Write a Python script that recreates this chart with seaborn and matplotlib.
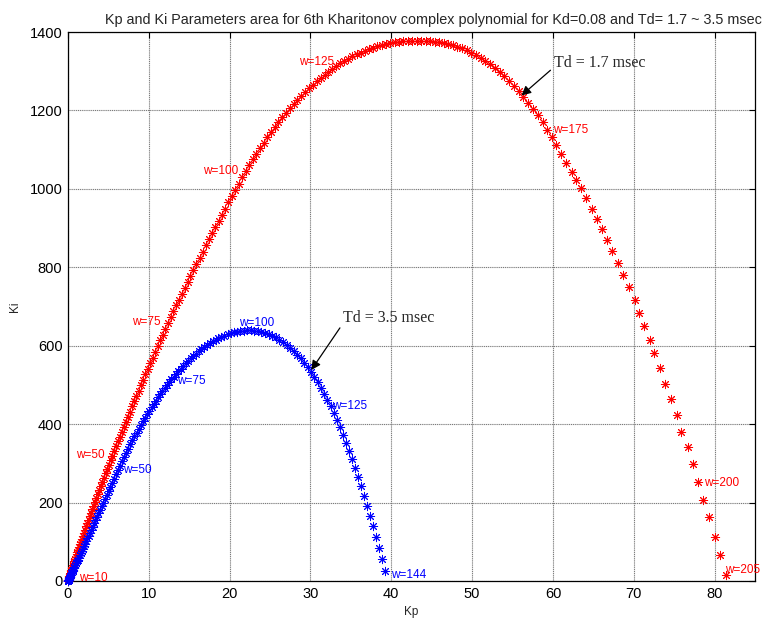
import matplotlib
matplotlib.use("Agg")
import matplotlib.pyplot as plt
import seaborn as sns
import pandas as pd

# ---------------- data ----------------
# Td = 1.7 msec curve (red), w = 0 ... 205
red_kp = [0, 0.002, 0.009, 0.020, 0.035, 0.055, 0.079, 0.108, 0.141, 0.178, 0.22, 0.266, 0.317, 0.372, 0.431,
          0.495, 0.563, 0.636, 0.713, 0.794, 0.88, 0.970, 1.065, 1.164, 1.267, 1.375, 1.487, 1.604, 1.725, 1.850,
          1.98, 2.114, 2.253, 2.396, 2.543, 2.695, 2.851, 3.012, 3.177, 3.346, 3.52, 3.698, 3.881, 4.068, 4.259,
          4.455, 4.655, 4.860, 5.069, 5.282, 5.50,
          5.722, 5.949, 6.180, 6.415, 6.655, 6.899, 7.148, 7.401, 7.658, 7.92, 8.186, 8.457, 8.732, 9.011, 9.295,
          9.583, 9.876, 10.173, 10.474, 10.78, 11.09, 11.405, 11.724, 12.047, 12.375, 12.707, 13.044, 13.385,
          13.730, 14.08, 14.434, 14.793, 15.156, 15.523, 15.895, 16.271, 16.652, 17.037, 17.426, 17.82, 18.218,
          18.621, 19.028, 19.439, 19.855, 20.275, 20.70, 21.129, 21.562, 22.0,
          22.44, 22.88, 23.32, 23.76, 24.2, 24.66, 25.12, 25.58, 26.04, 26.5, 26.97, 27.44, 27.91, 28.38, 28.85,
          29.33, 29.81, 30.29, 30.77, 31.25, 31.74, 32.23, 32.72, 33.21, 33.7, 34.2, 34.7, 35.2, 35.7, 36.2,
          36.72, 37.24, 37.76, 38.28, 38.8, 39.34, 39.88, 40.42, 40.96, 41.5, 42.05, 42.6, 43.15, 43.7, 44.25,
          44.81, 45.37, 45.93, 46.49, 47.05, 47.62, 48.19, 48.76, 49.33, 49.9, 50.48, 51.06, 51.64, 52.22, 52.8,
          53.39, 53.98, 54.57, 55.16, 55.75, 56.35, 56.95, 57.55, 58.15, 58.75, 59.3, 59.85, 60.4,
          61.0, 61.6, 62.3, 62.9, 63.5, 64.1, 64.8, 65.5, 66.1, 66.7, 67.3, 68.1, 68.7, 69.4, 70.1,
          70.7, 71.3, 72.0, 72.5, 73.3, 73.9, 74.6, 75.3, 75.9, 76.7, 77.3,
          77.9, 78.6, 79.3, 80.0, 80.7, 81.4]
red_ki = [0, 0.15, 0.60, 1.34, 2.37, 3.70, 5.31, 7.20, 9.37, 11.83, 14.56, 17.57, 20.84, 24.39, 28.19, 32.27,
          36.61, 41.18, 46.04, 51.12, 56.48, 62.09, 67.91, 74.01, 80.29, 86.88, 93.69, 100.67, 107.96, 115.39,
          123.12, 131.08, 139.16, 147.56, 156.06, 164.89, 173.92, 183.04, 192.49, 201.99, 211.84, 221.89, 231.97,
          242.40, 252.84, 263.66, 274.66, 285.62, 296.99, 308.29, 320.0,
          331.8, 343.7, 355.8, 368.1, 380.5, 393.1, 405.9, 418.7, 431.8, 445.0, 458.3, 471.7, 485.3, 499.1, 512.9,
          526.9, 541.0, 555.3, 569.6, 584.1, 598.7, 613.4, 628.2, 643.1, 658.1, 672.9, 687.8, 702.7, 717.7, 732.8,
          747.9, 763.2, 778.5, 793.8, 809.2, 824.7, 840.2, 855.7, 871.3, 887.0, 902.6, 918.3, 934.1, 949.9, 965.7,
          981.5, 997.4, 1013.2, 1029.1, 1045.0,
          1060.3, 1075.3, 1089.9, 1104.1, 1118.0, 1131.5, 1144.7, 1157.5, 1169.9, 1182.0, 1193.7, 1205.1, 1216.0,
          1226.7, 1237.0, 1246.9, 1256.4, 1265.6, 1274.4, 1283.0, 1291.0, 1298.8, 1306.2, 1313.2, 1319.8, 1326.2,
          1332.1, 1337.7, 1342.9, 1347.7, 1352.3, 1356.4, 1360.2, 1363.6, 1366.8, 1369.4, 1371.8, 1373.7, 1375.4,
          1376.7, 1377.5, 1378.1, 1378.3,
          1377.9, 1377.6, 1376.8, 1375.7, 1374.1, 1372.0, 1369.4, 1366.2, 1362.4, 1358.0, 1353.0, 1347.2, 1340.8,
          1333.7, 1325.9, 1317.3, 1308.1, 1297.9, 1287.0, 1275.3, 1262.7, 1249.4, 1235.1, 1220.0, 1204.0, 1187.2,
          1169.4, 1150.7, 1131.1, 1110.6,
          1089, 1066, 1043, 1023, 1002, 977, 949, 923, 898, 870, 842, 811, 781, 750, 717,
          684, 650, 615, 581, 543, 503, 464, 423, 380, 342, 299,
          252, 207, 163, 112, 66, 15]

# Td = 3.5 msec curve (blue), w = 0 ... 144
blue_kp = [0, 0.0025, 0.0099, 0.0223, 0.0397, 0.062, 0.0893, 0.1215, 0.1587, 0.2009, 0.248, 0.300, 0.357, 0.419,
           0.486, 0.558, 0.635, 0.717, 0.804, 0.895, 0.992, 1.094, 1.200, 1.312, 1.428, 1.55, 1.676, 1.808, 1.944,
           2.086, 2.232, 2.383, 2.540, 2.701, 2.867, 3.038, 3.214, 3.395, 3.581, 3.772, 3.968, 4.169, 4.375, 4.586,
           4.801, 5.022, 5.248, 5.478, 5.714, 5.954, 6.2,
           6.449, 6.699, 6.950, 7.202, 7.456, 7.711, 7.967, 8.225, 8.484, 8.744, 9.005, 9.268, 9.532, 9.797, 10.064,
           10.332, 10.601, 10.871, 11.143, 11.416, 11.69, 11.966, 12.243, 12.521, 12.8,
           13.082, 13.370, 13.662, 13.958, 14.26, 14.566, 14.878, 15.194, 15.514, 15.84, 16.17, 16.506, 16.846,
           17.19, 17.54, 17.894, 18.254, 18.618, 18.986, 19.36, 19.738, 20.122, 20.51, 20.902, 21.3,
           21.74, 22.18, 22.62, 23.06, 23.5, 23.94, 24.38, 24.82, 25.26, 25.7, 26.15, 26.6, 27.04, 27.48, 27.92,
           28.35, 28.78, 29.21, 29.64, 30.06, 30.48, 30.89, 31.3, 31.7, 32.1, 32.49, 32.88, 33.27, 33.66, 34.04,
           34.42, 34.8, 35.18,
           35.55, 35.92, 36.29, 36.66, 37.03, 37.4, 37.77, 38.14, 38.51, 38.88, 39.25]
blue_ki = [0, 0.11, 0.45, 1.02, 1.81, 2.83, 4.08, 5.55, 7.24, 9.17, 11.32, 13.70, 16.30, 19.13, 22.19, 25.47, 28.98,
           32.71, 36.68, 40.87, 45.28, 49.92, 54.79, 59.88, 65.20, 70.75, 76.52, 82.52, 88.75, 95.20, 101.88,
           108.79, 115.92, 123.27, 130.86, 138.67, 146.71, 154.97, 163.46, 172.18, 181.12, 190.29, 199.69, 209.31,
           219.16, 229.23, 239.53, 250.06, 260.81, 271.79, 283.0,
           294.3, 305.4, 316.4, 327.2, 337.8, 348.2, 358.5, 368.6, 378.5, 388.3, 397.8, 407.3, 416.5, 425.6, 434.4,
           443.2, 451.7, 460.1, 468.3, 476.3, 484.2, 491.9, 499.4, 506.7, 513.9,
           521.0, 528.0, 534.9, 541.7, 548.4, 555.0, 561.4, 567.8, 573.9, 579.9, 585.6, 591.1, 596.4, 601.5, 606.3,
           610.9, 615.1, 619.0, 622.7, 626.0, 628.9, 631.5, 633.7, 635.6, 637.1, 638.1, 638.8, 639.0,
           638.6, 637.5, 635.7, 633.2, 629.9, 625.9, 621.1, 615.6, 609.4, 602.5, 594.8, 586.4, 577.3, 567.5, 556.9,
           545.6, 533.5, 520.7, 507.2, 493.0, 478.0, 462.3, 445.9, 428.8, 410.9, 392.3, 373.0, 352.8, 332.0, 310.5,
           288.2, 265.2, 241.5, 217.1, 191.9, 166.0, 139.3, 111.9, 83.8, 55.0, 25.4]

# w labels: (text, Kp, Ki)
red_labels = ["w=10", "w=50", "w=75", "w=100", "w=125", "w=175", "w=200", "w=205"]
red_label_kp = [1.36, 1.04, 7.87, 16.75, 28.6, 60.0, 78.7, 81.3]
red_label_ki = [8, 321, 661, 1046, 1324, 1150, 250, 28]
blue_labels = ["w=50", "w=75", "w=100", "w=125", "w=144"]
blue_label_kp = [6.8, 13.45, 21.2, 32.7, 40.0]
blue_label_ki = [283, 510, 659, 446, 15]

title = "Kp and Ki Parameters area for 6th Kharitonov complex polynomial for Kd=0.08 and Td= 1.7 ~ 3.5 msec"
x_ticks = [0, 10, 20, 30, 40, 50, 60, 70, 80]
y_ticks = [0, 200, 400, 600, 800, 1000, 1200, 1400]

# ---------------- plot ----------------
sns.set_style("white")
plt.rcParams["font.family"] = ["Liberation Sans", "DejaVu Sans"]

W, H = 767, 620
fig = plt.figure(figsize=(W / 100, H / 100), dpi=100)
ax = fig.add_axes([68 / W, 1 - 581 / H, (755 - 68) / W, (581 - 32) / H])

red_df = pd.DataFrame({"Kp": red_kp, "Ki": red_ki})
blue_df = pd.DataFrame({"Kp": blue_kp, "Ki": blue_ki})
star = (8, 2, 0)
sns.scatterplot(data=red_df, x="Kp", y="Ki", ax=ax, marker=star, color="#ff0000",
                s=36, linewidth=0.7, legend=False, zorder=3, clip_on=False)
sns.scatterplot(data=blue_df, x="Kp", y="Ki", ax=ax, marker=star, color="#0000ff",
                s=36, linewidth=0.7, legend=False, zorder=3, clip_on=False)

ax.set_xlim(0, 85)
ax.set_ylim(0, 1400)
ax.set_xticks(x_ticks)
ax.set_yticks(y_ticks)
ax.grid(True, color="#7a7a7a", linestyle=(0, (1, 0.7)), linewidth=0.8)
ax.set_axisbelow(True)
ax.tick_params(direction="in", top=True, right=True, length=4, width=0.8,
               labelsize=10.5, pad=4, colors="black")
for sp in ax.spines.values():
    sp.set_color("black")
    sp.set_linewidth(0.9)

ax.set_xlabel("Kp", fontsize=8.5, labelpad=4)
ax.set_ylabel("Ki", fontsize=8.5, labelpad=6)
ax.set_title(title, fontsize=10.4, x=(433 - 68) / (755 - 68), pad=6)

for t, x, y in zip(red_labels, red_label_kp, red_label_ki):
    ax.text(x, y, t, color="#ff0000", fontsize=8.5, va="center", ha="left", zorder=4)
for t, x, y in zip(blue_labels, blue_label_kp, blue_label_ki):
    ax.text(x, y, t, color="#0000ff", fontsize=8.5, va="center", ha="left", zorder=4)

arrow = dict(arrowstyle="-|>", color="black", lw=0.9, mutation_scale=14, shrinkA=0, shrinkB=0)
ax.annotate("Td = 1.7 msec", xy=(56.1, 1238), xytext=(60.1, 1322), fontsize=11.5,
            family=["Liberation Serif", "DejaVu Serif"], va="center", ha="left",
            arrowprops=dict(arrow, relpos=(0, 0.2)), zorder=5)
ax.annotate("Td = 3.5 msec", xy=(30.1, 538), xytext=(34.05, 670), fontsize=11.5,
            family=["Liberation Serif", "DejaVu Serif"], va="center", ha="left",
            arrowprops=dict(arrow, relpos=(0, 0.2)), zorder=5)

fig.savefig("out.png", dpi=100)
